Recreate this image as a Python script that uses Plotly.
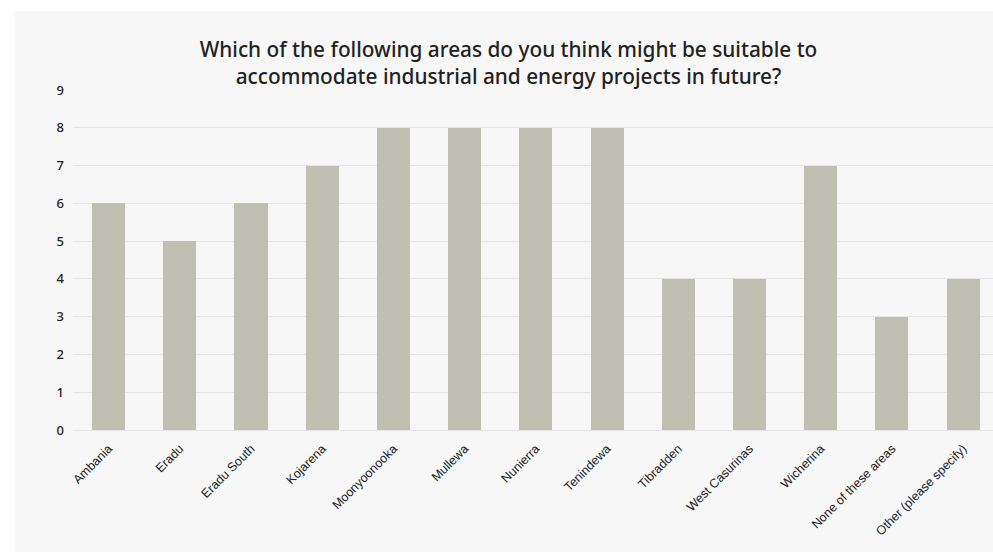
import plotly.graph_objects as go

# Survey responses per area
areas = [
    "Ambania", "Eradu", "Eradu South", "Kojarena", "Moonyoonooka", "Mullewa",
    "Nunierra", "Tenindewa", "Tibradden", "West Casurinas", "Wicherina",
    "None of these areas", "Other (please specify)",
]
responses = [6, 5, 6, 7, 8, 8, 8, 8, 4, 4, 7, 3, 4]
y_ticks = list(range(0, 10))

W, H = 993, 552
ML, MR, MT, MB = 73, 0, 90, 122

fig = go.Figure(
    go.Bar(
        x=list(range(len(areas))),
        y=responses,
        marker=dict(color="#bfc0b1", line=dict(width=0)),
        width=0.465,
        hoverinfo="x+y",
    )
)

plot_w = W - ML - MR
plot_h = H - MT - MB

# light panel behind the chart, offset from the top-left corner
fig.add_shape(
    type="rect", xref="paper", yref="paper", layer="below",
    x0=(15 - ML) / plot_w, x1=(W + 10 - ML) / plot_w,
    y0=-(MB + 10) / plot_h, y1=(H - 11 - MB) / plot_h,
    fillcolor="#f7f7f7", line=dict(width=0),
)

fig.update_layout(
    width=W, height=H,
    margin=dict(l=ML, r=MR, t=MT, b=MB, pad=0),
    paper_bgcolor="white",
    plot_bgcolor="rgba(0,0,0,0)",
    showlegend=False,
    bargap=0,
    title=dict(
        text="Which of the following areas do you think might be suitable to<br>"
             "accommodate industrial and energy projects in future?",
        x=508.5 / W, xanchor="center", xref="container",
        y=1 - 57 / H, yanchor="middle", yref="container",
        font=dict(family="Noto Sans, Open Sans, sans-serif", size=20.8,
                  color="#222222", weight=500),
    ),
    xaxis=dict(
        tickmode="array",
        tickvals=list(range(len(areas))),
        ticktext=areas,
        tickangle=-45,
        range=[-0.5, 12.42],
        showgrid=False,
        zeroline=False,
        showline=False,
        ticks="",
        ticklabelstandoff=8,
        tickfont=dict(family="Liberation Sans, Arial, sans-serif", size=12.5, color="#222222"),
        fixedrange=True,
    ),
    yaxis=dict(
        range=[0, 9],
        tickvals=y_ticks,
        showgrid=True,
        gridcolor="#e4e4e4",
        gridwidth=1,
        zeroline=True,
        zerolinecolor="#e4e4e4",
        zerolinewidth=1,
        showline=False,
        ticks="",
        ticklabelstandoff=8,
        tickfont=dict(family="Noto Sans, sans-serif", size=13, color="#222222", weight=500),
        fixedrange=True,
    ),
)

fig.write_html("out.html")
